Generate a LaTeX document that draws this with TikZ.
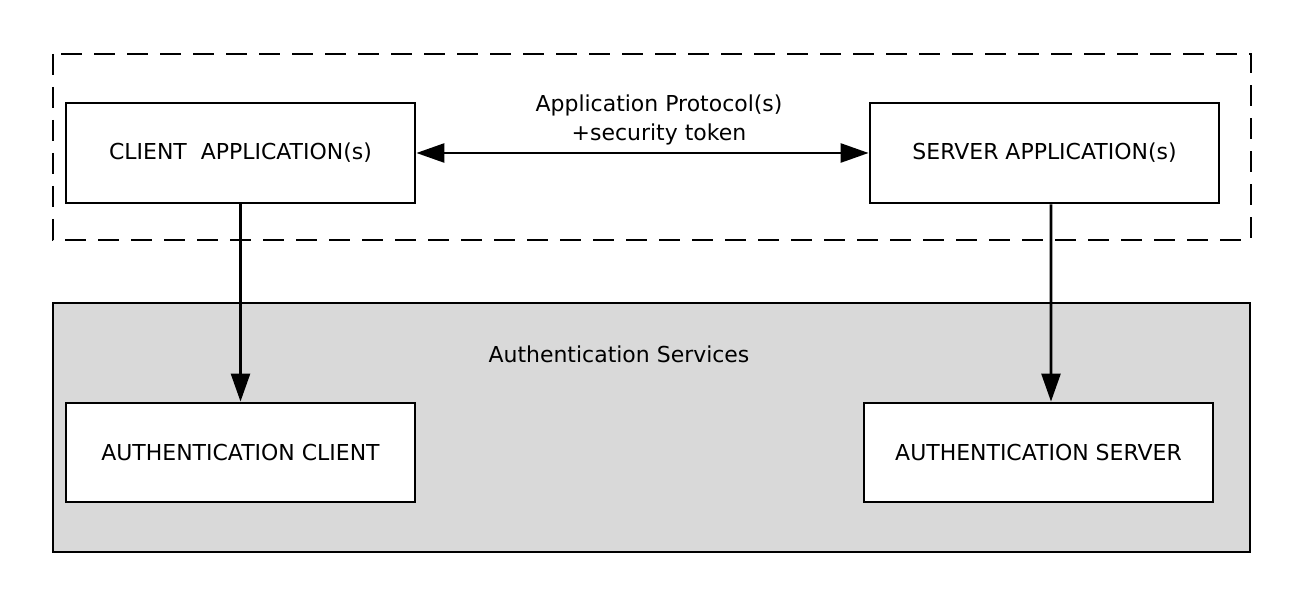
\documentclass[tikz,border=0pt]{standalone}
\usepackage{fontspec}
\setmainfont{DejaVu Sans}
\usepackage{tikz}
\usetikzlibrary{arrows.meta}
\usetikzlibrary{positioning}
\definecolor{servicegray}{RGB}{217, 217, 217}

\begin{document}
\begin{tikzpicture}[
        every node/.style={font=\fontsize{12.5}{16}\selectfont},
        appbox/.style={draw, fill=white, line width=1.6pt, minimum width=6.98cm, minimum height=2.00cm},
        flow/.style={line width=1.5pt, -{Triangle[length=0.56cm, width=0.38cm]}}
    ]
            \useasboundingbox                                             ( 0.00, 0.00) rectangle (26.08,12.12);
            \filldraw[draw=black, fill=servicegray, line width=1.6pt]     ( 1.06, 6.06) rectangle (25.00, 1.08);
            \draw[line width=1.6pt, dash pattern=on 0.42cm off 0.24cm]    ( 1.06,11.04) rectangle (25.02, 7.32);
            % applications
            \node[appbox] (cliapp) at ( 4.81, 9.06) {CLIENT\ \ APPLICATION(s)};
            \node[appbox] (srvapp) at (20.89, 9.06) {SERVER APPLICATION(s)};
            % authentication services
            \node[appbox, minimum height=1.98cm] (authcli) at ( 4.81, 3.07) {AUTHENTICATION CLIENT};
            \node[appbox, minimum height=1.98cm] (authsrv) at (20.77, 3.07) {AUTHENTICATION SERVER};
            \node (services) at (12.38, 5.04) {Authentication Services};
            \node[align=center] (protocol) at (13.18, 9.72) {Application Protocol(s)\\+security token};
            % connectors
            \draw[flow, {Triangle[length=0.56cm, width=0.38cm]}-{Triangle[length=0.56cm, width=0.38cm]}] (cliapp) -- (srvapp);
            \draw[flow] (cliapp.south) -- (authcli.north);
            \draw[flow] ([xshift=0.13cm]srvapp.south) -- ([xshift=0.25cm]authsrv.north);
        \end{tikzpicture}
\end{document}
